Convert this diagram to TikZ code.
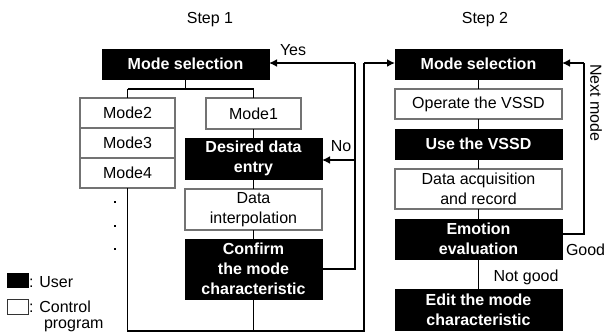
\documentclass[tikz,border=0pt]{standalone}
\usepackage{fontspec}
\setmainfont{Liberation Sans}
\usetikzlibrary{arrows.meta}
\begin{document}
\begin{tikzpicture}[x=1pt,y=-1pt,
  every node/.style={inner sep=0pt, outer sep=0pt},
  txt/.style={font=\fontsize{16}{20}\selectfont, align=center},
  userbox/.style={fill=black, draw=black, text=white, txt, font=\fontsize{16}{20}\selectfont\bfseries},
  progbox/.style={fill=white, draw=black!55, line width=1.2pt, txt},
  conn/.style={line width=1.8pt, black},
  arr/.style={conn, -{Latex[length=8pt,width=8pt]}}
]
\useasboundingbox (0,0) rectangle (606,333);

% titles
\node[txt] (s1) at (210,20) {Step 1};
\node[txt] (s2) at (485,20) {Step 2};

% Step 1
\node[userbox, minimum width=167pt, minimum height=30pt] (ms1) at (185.5,64) {Mode selection};
\node[progbox, minimum width=95pt, minimum height=30pt] (m2) at (127.5,113) {Mode2};
\node[progbox, minimum width=95pt, minimum height=30pt] (m3) at (127.5,143) {Mode3};
\node[progbox, minimum width=95pt, minimum height=30pt] (m4) at (127.5,173) {Mode4};
\node[progbox, minimum width=95pt, minimum height=31pt] (m1) at (253.5,113.5) {Mode1};
\node[userbox, minimum width=137pt, minimum height=41pt] (des) at (253.5,158.5) {Desired data\\entry};
\node[progbox, minimum width=137pt, minimum height=41pt] (int) at (253.5,209.5) {Data\\interpolation};
\node[userbox, minimum width=137pt, minimum height=60pt] (conf) at (253.5,269) {Confirm\\the mode\\characteristic};

% dots
\foreach \yy/\nm in {202/d1,226/d2,249/d3}
  \node[fill=black, minimum size=2.2pt] (\nm) at (115,\yy) {};

% Step 2
\node[userbox, minimum width=167pt, minimum height=30pt] (ms2) at (478.5,64) {Mode selection};
\node[progbox, minimum width=167pt, minimum height=30pt] (op) at (478.5,104) {Operate the VSSD};
\node[userbox, minimum width=167pt, minimum height=30pt] (use) at (478.5,144) {Use the VSSD};
\node[progbox, minimum width=167pt, minimum height=40pt] (acq) at (478.5,189) {Data acquisition\\and record};
\node[userbox, minimum width=167pt, minimum height=40pt] (emo) at (478.5,239) {Emotion\\evaluation};
\node[userbox, minimum width=167pt, minimum height=41pt] (edit) at (478.5,309.5) {Edit the mode\\characteristic};

% coordinates
\coordinate (split) at (185.5,89);
\coordinate (bl) at (127.5,331);
\coordinate (br) at (364,331);
\coordinate (tr) at (364,63);
\coordinate (yr) at (355,269);
\coordinate (yt) at (355,63);
\coordinate (nr) at (355,160);
\coordinate (gr) at (584,234);
\coordinate (gt) at (584,63);

% Step 1 connectors
\draw[conn] (ms1.south) -- (split);
\draw[conn] (127.5,89) -- (253.5,89);
\draw[conn] (127.5,89) -- (m2.north);
\draw[conn] (253.5,89) -- (m1.north);
\draw[conn] (m1.south) -- (des.north);
\draw[conn] (des.south) -- (int.north);
\draw[conn] (int.south) -- (conf.north);
\draw[conn] (conf.south) -- (253.5,331);
\draw[conn] (m4.south) -- (bl) -- (br) -- (tr);
\draw[arr] (tr) -- (ms2.west |- tr);
\draw[conn] (conf.east |- yr) -- (yr) -- (yt);
\draw[arr] (yt) -- (ms1.east |- yt);
\draw[arr] (nr) -- (des.east |- nr);
\node[txt, anchor=west] (yes) at (280,50) {Yes};
\node[txt] (no) at (341,146) {No};

% Step 2 connectors
\draw[conn] (ms2.south) -- (op.north);
\draw[conn] (op.south) -- (use.north);
\draw[conn] (use.south) -- (acq.north);
\draw[conn] (acq.south) -- (emo.north);
\draw[conn] (emo.south) -- (edit.north);
\draw[conn] (emo.east |- gr) -- (gr) -- (gt);
\draw[arr] (gt) -- (ms2.east |- gt);
\node[txt, anchor=west] (good) at (566,250) {Good};
\node[txt] (ng) at (526,277) {Not good};
\node[txt, rotate=-90] (nm) at (596,103) {Next mode};

% legend
\node[fill=black, minimum width=22pt, minimum height=15pt] (lu) at (18,280.5) {};
\node[draw=black!80, line width=1.2pt, fill=white, minimum width=21pt, minimum height=15pt] (lc) at (18,307) {};
\node[txt, anchor=west] (lut) at (29,282) {: User};
\node[txt, anchor=west] (lct) at (29,307) {: Control};
\node[txt, anchor=west] (lpt) at (44,326) {program};
\end{tikzpicture}
\end{document}
